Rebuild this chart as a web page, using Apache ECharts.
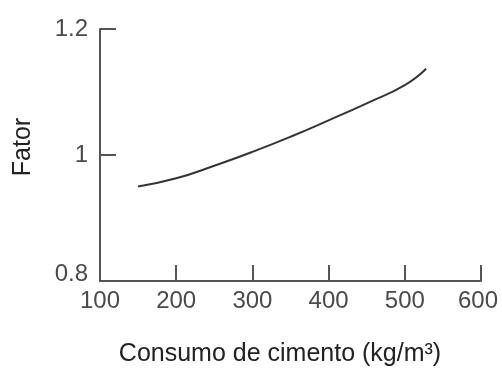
<!DOCTYPE html>
<html>
<head>
<meta charset="utf-8">
<script src="https://cdn.jsdelivr.net/npm/echarts@6/dist/echarts.min.js"></script>
<style>html,body{margin:0;padding:0;background:#fff}#c{width:502px;height:374px}</style>
</head>
<body>
<div id="c"></div>
<script>
var cementUse = [150, 200, 250, 300, 350, 400, 450, 500, 528];
var factor    = [0.950, 0.963, 0.983, 1.005, 1.029, 1.055, 1.082, 1.111, 1.137];
var xTickLabels = ['100', '200', '300', '400', '500', '600'];
var yTickLabels = ['0.8', '1', '1.2'];
var xName = 'Consumo de cimento (kg/m³)';
var yName = 'Fator';

var chart = echarts.init(document.getElementById('c'), null, {renderer: 'canvas'});
var font = 'Liberation Sans, Arial, sans-serif';
var pts = cementUse.map(function (x, i) { return [x, factor[i]]; });

chart.setOption({
  animation: false,
  grid: {left: 100, right: 21, top: 29, bottom: 93},
  xAxis: {
    type: 'value', min: 100, max: 600, interval: 100,
    name: xName, nameLocation: 'middle', nameGap: 61,
    nameTextStyle: {fontFamily: font, fontSize: 25, color: '#222', padding: [0, 21, 0, 0]},
    axisLine: {lineStyle: {color: '#555', width: 2}},
    axisTick: {inside: true, length: 16, lineStyle: {color: '#555', width: 2}},
    splitLine: {show: false},
    axisLabel: {
      fontFamily: font, fontSize: 24, color: '#4a4a4a', margin: 8,
      formatter: function (v) {
        var s = xTickLabels[Math.round((v - 100) / 100)];
        return v === 600 ? '{hi|' + s + '}' : s;
      },
      rich: {hi: {fontFamily: font, fontSize: 24, color: '#4a4a4a', padding: [0, 6, 0, 0]}}
    }
  },
  yAxis: {
    type: 'value', min: 0.8, max: 1.2, interval: 0.2,
    name: yName, nameLocation: 'middle', nameGap: 64,
    nameTextStyle: {fontFamily: font, fontSize: 25, color: '#222', padding: [0, 0, 0, 16]},
    axisLine: {show: true, lineStyle: {color: '#555', width: 2}},
    axisTick: {show: true, inside: true, length: 16, lineStyle: {color: '#555', width: 2}},
    splitLine: {show: false},
    axisLabel: {
      fontFamily: font, fontSize: 24, color: '#4a4a4a', margin: 12,
      formatter: function (v) {
        var s = yTickLabels[Math.round((v - 0.8) / 0.2)];
        return Math.abs(v - 0.8) < 1e-6 ? '{lo|' + s + '}' : s;
      },
      rich: {lo: {fontFamily: font, fontSize: 24, color: '#4a4a4a', padding: [0, 0, 14, 0]}}
    }
  },
  series: [{
    type: 'line', data: pts, smooth: 0.5, showSymbol: false,
    lineStyle: {color: '#333', width: 2}
  }]
});
</script>
</body>
</html>
